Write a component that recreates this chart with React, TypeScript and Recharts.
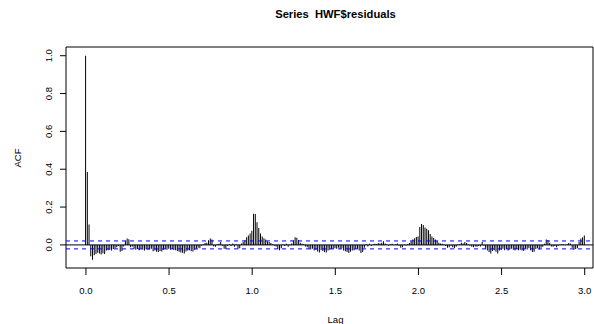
import React from "react";
import {
  ComposedChart,
  Bar,
  XAxis,
  YAxis,
  ReferenceLine,
  ReferenceArea,
} from "recharts";

// lags per unit of the x axis (series frequency)
const frequency = 96;

// autocorrelations, lag 0 .. 288
const acfValues = [
  1.0, 0.385, 0.108, -0.06, -0.078, -0.055, -0.048, -0.042, -0.046, -0.05, -0.044, -0.048,
  -0.03, -0.028, -0.025, -0.03, -0.022, -0.018, -0.012, -0.006, -0.036, -0.032, -0.008, 0.022,
  0.034, 0.03, -0.012, -0.008, -0.02, -0.025, -0.022, -0.028, -0.02, -0.025, -0.03, -0.022,
  -0.026, -0.024, -0.02, -0.034, -0.03, -0.036, -0.038, -0.032, -0.035, -0.025, -0.022, -0.026,
  -0.02, -0.024, -0.022, -0.025, -0.028, -0.032, -0.036, -0.04, -0.042, -0.045, -0.035, -0.03,
  -0.028, -0.032, -0.035, -0.026, -0.02, -0.015, -0.018, -0.004, 0.002, 0.01, 0.012, 0.025,
  0.034, 0.028, -0.008, -0.01, 0.004, 0.006, 0.015, -0.004, -0.02, -0.022, -0.005, 0.003,
  -0.006, 0.008, -0.01, 0.004, -0.02, -0.018, 0.008, 0.015, 0.025, 0.04, 0.05, 0.06,
  0.075, 0.165, 0.163, 0.12, 0.09, 0.06, 0.045, 0.035, 0.028, 0.02, 0.016, 0.01,
  0.004, -0.004, -0.008, -0.022, -0.028, -0.018, 0.004, -0.006, 0.006, -0.01, 0.002, 0.008,
  0.025, 0.04, 0.038, 0.026, 0.012, 0.006, 0.004, -0.008, -0.012, -0.02, -0.024, -0.02,
  -0.03, -0.026, -0.035, -0.04, -0.028, -0.032, -0.038, -0.04, -0.03, -0.025, -0.022, -0.02,
  -0.018, -0.02, -0.015, -0.022, -0.018, -0.03, -0.034, -0.038, -0.043, -0.036, -0.03, -0.028,
  -0.022, -0.02, -0.03, -0.043, -0.038, -0.015, 0.004, -0.008, 0.006, -0.004, 0.002, 0.006,
  0.004, 0.01, 0.008, 0.012, 0.02, 0.008, 0.002, -0.004, 0.003, 0.006, -0.002, 0.004,
  0.008, -0.004, -0.015, -0.012, 0.002, -0.003, 0.004, 0.01, 0.02, 0.028, 0.035, 0.042,
  0.045, 0.095, 0.11, 0.105, 0.092, 0.085, 0.078, 0.058, 0.045, 0.036, 0.028, 0.022,
  0.012, 0.008, 0.006, 0.004, -0.006, -0.015, -0.012, -0.004, -0.012, -0.018, -0.01, 0.002,
  0.004, 0.012, 0.008, 0.015, 0.01, 0.004, -0.004, -0.01, -0.012, -0.008, -0.01, -0.006,
  -0.008, 0.015, -0.004, -0.02, -0.03, -0.038, -0.045, -0.032, -0.028, -0.036, -0.045, -0.03,
  -0.025, -0.02, -0.028, -0.022, -0.03, -0.024, -0.02, -0.026, -0.03, -0.022, -0.028, -0.025,
  -0.03, -0.032, -0.02, -0.024, -0.018, -0.028, -0.037, -0.036, -0.022, -0.018, -0.024, -0.015,
  -0.01, 0.006, 0.028, 0.026, 0.012, -0.008, -0.01, -0.006, -0.012, -0.004, 0.002, 0.004,
  0.003, -0.002, 0.004, 0.01, 0.008, -0.015, -0.025, -0.022, -0.018, 0.016, 0.034, 0.04,
  0.05,
];

// 95% confidence bound drawn as dashed blue lines
const ciBound = 0.021;

const xTicks = [0, 0.5, 1, 1.5, 2, 2.5, 3];
const yTicks = [0, 0.2, 0.4, 0.6, 0.8, 1.0];
const xDomain = [-0.12, 3.05];
const yDomain = [-0.122, 1.046];

const chartData = acfValues.map((acf, i) => ({ lag: i / frequency, acf }));

const font = "'Liberation Sans', Arial, Helvetica, sans-serif";

function YTick(props: any) {
  const { y, payload } = props;
  const x = 52;
  return (
    <text
      x={x}
      y={y}
      transform={`rotate(-90, ${x}, ${y})`}
      textAnchor="middle"
      fontSize={9.5}
      fontFamily={font}
      fill="#000"
    >
      {payload.value.toFixed(1)}
    </text>
  );
}

export default function App() {
  return (
    <div style={{ position: "absolute", left: 0, top: 0, width: 594, height: 324, background: "#fff", fontFamily: font, overflow: "hidden" }}>
      <div
        style={{
          position: "absolute",
          left: 0,
          width: 671,
          top: 8,
          textAlign: "center",
          fontSize: 11.2,
          fontWeight: "bold",
          whiteSpace: "pre",
        }}
      >
        {"Series  HWF$residuals"}
      </div>
      <div style={{ position: "absolute", left: 0, width: 671, top: 314, textAlign: "center", fontSize: 9.5 }}>
        Lag
      </div>
      <div
        style={{
          position: "absolute",
          left: 17,
          top: 158,
          fontSize: 9.5,
          transform: "translate(-50%, -50%) rotate(-90deg)",
        }}
      >
        ACF
      </div>
      <ComposedChart
        width={594}
        height={324}
        data={chartData}
        margin={{ top: 47, right: 1, left: 0, bottom: 0 }}
        style={{ position: "absolute", left: 0, top: 0 }}
      >
        <XAxis
          type="number"
          dataKey="lag"
          domain={xDomain}
          ticks={xTicks}
          allowDataOverflow
          interval={0}
          height={56}
          axisLine={false}
          tickLine={{ stroke: "#000" }}
          tickSize={7}
          tickMargin={12}
          tickFormatter={(v: number) => v.toFixed(1)}
          tick={{ fontSize: 9.5, fill: "#000", fontFamily: font }}
        />
        <YAxis
          type="number"
          domain={yDomain}
          ticks={yTicks}
          allowDataOverflow
          interval={0}
          width={66}
          axisLine={false}
          tickLine={{ stroke: "#000" }}
          tickSize={6}
          tick={<YTick />}
        />
        <Bar dataKey="acf" barSize={1} fill="#000" isAnimationActive={false} />
        <ReferenceLine y={0} stroke="#000" strokeWidth={1} />
        <ReferenceLine y={ciBound} stroke="#0000ff" strokeDasharray="4 4" />
        <ReferenceLine y={-ciBound} stroke="#0000ff" strokeDasharray="4 4" />
        <ReferenceArea
          x1={xDomain[0]}
          x2={xDomain[1]}
          y1={yDomain[0]}
          y2={yDomain[1]}
          fill="none"
          stroke="#000"
          strokeWidth={1}
        />
      </ComposedChart>
    </div>
  );
}
